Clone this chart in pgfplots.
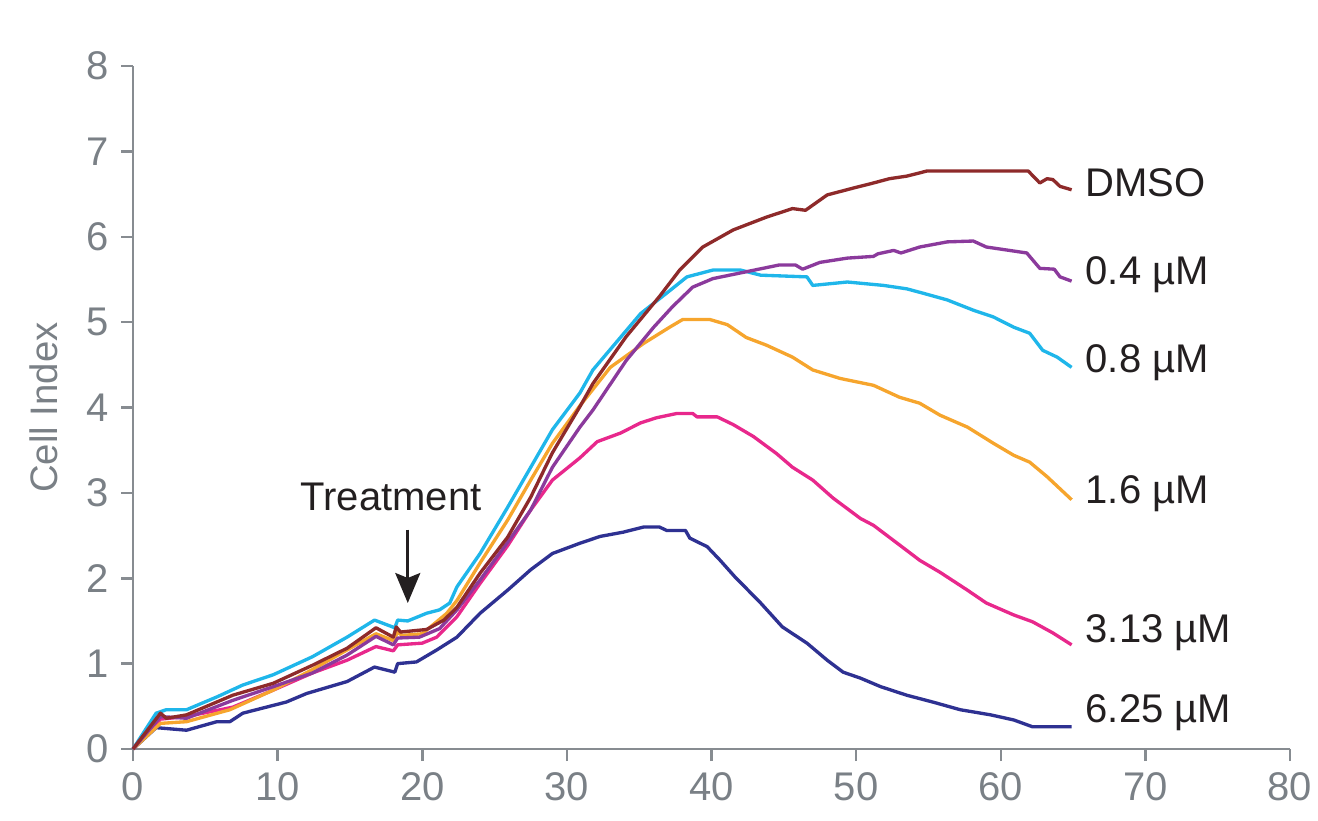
\documentclass[border=0pt]{standalone}
\usepackage{fontspec}
\setmainfont{Liberation Sans}
\usepackage{pgfplots}
\pgfplotsset{compat=1.18}
\usetikzlibrary{arrows.meta}
\definecolor{axisgray}{HTML}{878C91}
\definecolor{labelgray}{HTML}{7A8086}
\definecolor{textblack}{HTML}{231F20}
\definecolor{cdmso}{HTML}{8E2A2A}
\definecolor{cpurple}{HTML}{8B3A9C}
\definecolor{ccyan}{HTML}{1FB6EA}
\definecolor{corange}{HTML}{F6A52D}
\definecolor{cpink}{HTML}{E8288C}
\definecolor{cnavy}{HTML}{2E3192}

\begin{document}
\begin{tikzpicture}
\begin{axis}[
  scale only axis, width=347.1pt, height=204.9pt,
  at={(0,0)}, anchor=south west,
  xmin=0, xmax=80, ymin=0, ymax=8,
  xtick={0,10,...,80}, ytick={0,1,...,8},
  axis x line*=bottom, axis y line*=left,
  axis line style={draw=axisgray, line width=0.75pt},
  tick style={draw=axisgray, line width=0.75pt},
  tick align=outside, major tick length=3.6pt,
  tick label style={font=\fontsize{12}{14}\selectfont, text=labelgray},
  /pgf/number format/assume math mode=true,
  ylabel={Cell Index},
  ylabel style={font=\fontsize{11.5}{13}\selectfont, text=labelgray,
    at={(axis description cs:-0.0769,0.5)}, anchor=center},
  clip=false,
  every axis plot/.append style={line width=1pt, line join=round},
]
% 6.25 uM
\addplot[cnavy] coordinates {(0,0) (1.6,0.25) (3.7,0.22) (5.8,0.32) (6.7,0.32) (7.6,0.42) (10.6,0.55) (12.0,0.65) (14.8,0.79) (16.7,0.96) (18.1,0.90) (18.3,1.00) (19.6,1.02) (21.0,1.16) (22.4,1.31) (24.0,1.59) (25.9,1.86) (27.5,2.10) (29.0,2.29) (30.9,2.41) (32.3,2.49) (33.9,2.54) (35.3,2.60) (36.4,2.60) (36.9,2.56) (38.2,2.56) (38.5,2.47) (39.7,2.37) (40.6,2.21) (41.6,2.02) (43.4,1.71) (44.9,1.43) (46.6,1.24) (48.0,1.04) (49.1,0.90) (50.3,0.83) (51.7,0.73) (53.5,0.63) (55.3,0.55) (57.2,0.46) (59.3,0.40) (60.9,0.34) (62.2,0.26) (64.9,0.26)};
% 3.13 uM
\addplot[cpink] coordinates {(0,0) (1.9,0.35) (3.7,0.38) (6.9,0.49) (9.7,0.69) (12.4,0.89) (14.8,1.04) (16.8,1.20) (18.0,1.15) (18.3,1.22) (20.0,1.24) (21.0,1.31) (22.4,1.55) (24.0,1.94) (25.9,2.38) (27.5,2.80) (29.0,3.15) (30.9,3.41) (32.1,3.60) (33.7,3.70) (35.1,3.82) (36.2,3.88) (37.6,3.93) (38.7,3.93) (39.0,3.89) (40.4,3.89) (41.5,3.80) (42.9,3.66) (44.5,3.46) (45.6,3.30) (47.0,3.15) (48.4,2.94) (50.3,2.70) (51.2,2.62) (53.0,2.39) (54.4,2.21) (55.8,2.07) (57.7,1.86) (59.0,1.71) (60.9,1.57) (62.2,1.49) (63.6,1.36) (64.9,1.22)};
% 1.6 uM
\addplot[corange] coordinates {(0,0) (1.9,0.30) (3.7,0.32) (6.7,0.46) (9.7,0.69) (12.4,0.93) (14.8,1.16) (16.8,1.35) (18.0,1.27) (18.3,1.37) (18.6,1.33) (20.0,1.35) (20.5,1.42) (21.7,1.59) (22.4,1.74) (24.0,2.18) (25.9,2.68) (27.5,3.15) (29.0,3.58) (30.9,4.02) (33.0,4.47) (35.3,4.75) (37.1,4.94) (38.0,5.03) (39.9,5.03) (41.1,4.97) (42.4,4.82) (43.8,4.73) (45.6,4.59) (47.0,4.44) (48.9,4.34) (51.2,4.26) (53.0,4.12) (54.4,4.05) (55.8,3.91) (57.7,3.77) (59.5,3.58) (60.9,3.44) (62.0,3.36) (63.2,3.19) (64.9,2.92)};
% 0.8 uM
\addplot[ccyan] coordinates {(0,0) (1.6,0.42) (2.3,0.46) (3.7,0.46) (5.8,0.61) (7.6,0.75) (9.7,0.87) (12.4,1.08) (14.8,1.31) (16.7,1.51) (18.1,1.42) (18.3,1.51) (19.0,1.50) (20.3,1.59) (21.2,1.63) (21.9,1.71) (22.4,1.90) (24.0,2.29) (25.9,2.83) (27.5,3.30) (29.0,3.74) (30.9,4.17) (31.8,4.44) (35.1,5.10) (36.9,5.34) (38.3,5.53) (40.1,5.61) (42.0,5.61) (43.4,5.55) (46.6,5.53) (47.0,5.43) (49.4,5.47) (51.9,5.43) (53.5,5.39) (54.6,5.34) (56.3,5.26) (58.1,5.14) (59.5,5.06) (60.9,4.94) (62.0,4.87) (62.9,4.67) (63.9,4.59) (64.9,4.47)};
% 0.4 uM
\addplot[cpurple] coordinates {(0,0) (1.9,0.38) (3.7,0.36) (6.9,0.57) (9.7,0.73) (12.4,0.89) (14.8,1.10) (16.8,1.32) (18.0,1.22) (18.3,1.30) (19.8,1.31) (21.2,1.41) (22.4,1.63) (24.0,1.98) (25.9,2.42) (27.5,2.80) (29.0,3.30) (30.9,3.77) (31.8,3.97) (34.1,4.55) (36.0,4.94) (37.3,5.18) (38.7,5.41) (40.1,5.51) (42.4,5.59) (44.7,5.67) (45.8,5.67) (46.3,5.62) (47.5,5.70) (49.4,5.75) (51.2,5.77) (51.5,5.80) (52.6,5.84) (53.1,5.81) (54.4,5.88) (56.3,5.94) (58.1,5.95) (59.0,5.88) (60.6,5.84) (61.8,5.81) (62.7,5.63) (63.7,5.62) (64.1,5.53) (64.9,5.48)};
% DMSO
\addplot[cdmso] coordinates {(0,0) (1.9,0.42) (2.3,0.36) (3.7,0.40) (6.9,0.63) (9.7,0.77) (12.4,0.98) (14.8,1.18) (16.8,1.42) (18.0,1.31) (18.2,1.43) (18.5,1.37) (20.3,1.40) (21.5,1.51) (22.4,1.66) (24.0,2.06) (25.9,2.48) (27.5,2.95) (29.0,3.47) (30.9,4.01) (31.8,4.28) (34.1,4.83) (36.4,5.30) (37.8,5.61) (39.4,5.88) (41.5,6.08) (43.8,6.23) (45.6,6.33) (46.5,6.31) (48.0,6.49) (49.8,6.57) (51.2,6.63) (52.3,6.68) (53.5,6.71) (54.9,6.77) (61.9,6.77) (62.7,6.63) (63.2,6.68) (63.6,6.67) (64.1,6.59) (64.9,6.55)};

\begin{scope}[every node/.style={font=\fontsize{12}{14}\selectfont, text=textblack, anchor=west, inner sep=0pt}]
\node at (axis cs:65.83,6.63) {DMSO};
\node at (axis cs:65.83,5.55) {0.4 µM};
\node at (axis cs:65.83,4.53) {0.8 µM};
\node at (axis cs:65.83,2.99) {1.6 µM};
\node at (axis cs:65.83,1.36) {3.13 µM};
\node at (axis cs:65.83,0.42) {6.25 µM};
\end{scope}
\node[font=\fontsize{12}{14}\selectfont, text=textblack, inner sep=0pt] at (axis cs:17.84,2.95) {Treatment};
\draw[-{Stealth[length=9pt,width=7.5pt,inset=1.5pt]}, line width=0.8pt, textblack] (axis cs:19.0,2.57) -- (axis cs:19.0,1.71);
\end{axis}
\pgfresetboundingbox
\path[use as bounding box] (-39.9pt,-21.3pt) rectangle (355.5pt,224.7pt);
\end{tikzpicture}
\end{document}
